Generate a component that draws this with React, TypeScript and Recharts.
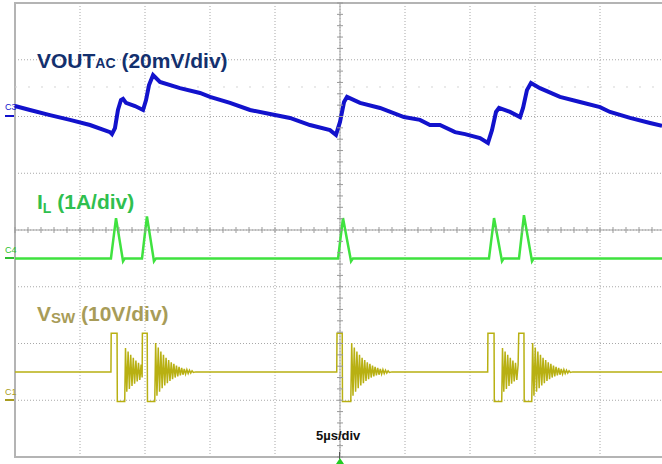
import { ComposedChart, Line, Scatter, XAxis, YAxis, CartesianGrid, ReferenceLine, ReferenceArea } from 'recharts';

// time axis in µs (5µs/div, 10 div), screen divisions 0..8 for the graticule
const timeTicks = [0, 5, 10, 15, 20, 25, 30, 35, 40, 45, 50];
const divTicks = [0, 1, 2, 3, 4, 5, 6, 7, 8];
const minorTimeTicks = Array.from({ length: 51 }, (_, i) => ({ t: i, d: 4 }));
const minorDivTicks = Array.from({ length: 41 }, (_, i) => ({ t: 25, d: i * 0.2 }));

// C3: VOUT AC, mV
const voutTrace: [number, number][] = [
    [0, 3.7], [1.15, 2.3], [2.69, 0.5], [4.23, -1.2], [5.77, -3.0], [7.31, -5.5], [7.46, -6.2],
    [7.69, -4.1], [7.92, 2.3], [8.15, 5.8], [8.31, 6.2], [8.54, 4.8], [9.23, 3.7], [9.85, 2.3],
    [10.08, 5.8], [10.31, 11.1], [10.62, 14.6], [11.15, 12.2], [12.69, 10.0], [14.23, 8.3],
    [15.0, 6.9], [16.54, 4.8], [18.08, 2.3], [20.0, 0.5], [21.15, -0.5], [22.69, -3.0],
    [24.23, -4.8], [24.69, -6.5], [25.0, -1.9], [25.31, 5.1], [25.54, 6.9], [26.54, 4.8],
    [28.08, 3.0], [29.92, -0.2], [31.15, -1.2], [31.92, -3.0], [32.69, -3.0], [33.85, -5.5],
    [34.62, -6.2], [35.77, -7.6], [36.38, -9.3], [36.69, -4.8], [37.0, 1.6], [37.23, 3.0],
    [38.08, 1.6], [38.85, -0.2], [39.08, 3.0], [39.38, 9.3], [39.69, 11.8], [40.38, 10.0],
    [41.92, 6.9], [43.46, 5.1], [45.0, 3.3], [45.77, 1.6], [47.31, -0.5], [48.85, -2.3], [49.77, -3.3],
];

// C4: inductor current, A
const ilTrace: [number, number][] = [
    [0, 0], [7.38, 0], [7.77, 0.71], [8.31, -0.05], [8.45, 0],
    [9.77, 0], [10.15, 0.74], [10.69, -0.05], [10.85, 0],
    [24.85, 0], [25.23, 0.71], [25.85, -0.05], [26.0, 0],
    [36.46, 0], [36.85, 0.71], [37.46, -0.05], [37.6, 0],
    [38.77, 0], [39.15, 0.76], [39.77, -0.05], [39.9, 0], [50, 0],
];

// C1: switch node, V
const vswBurst1: [number, number][] = [
    [0, 5.0], [7.38, 5.0], [7.4, 11.8], [7.85, 11.8], [7.87, -0.2], [8.44, -0.2],
    [8.5, 9.2], [8.6, 1.5], [8.7, 8.6], [8.8, 2.0], [8.9, 8.0], [9.0, 2.5], [9.1, 7.5], [9.2, 2.9],
    [9.3, 7.0], [9.4, 3.3], [9.5, 6.6], [9.6, 3.6], [9.7, 6.3], [9.78, 4.0],
    [9.8, 11.8], [10.17, 11.8], [10.19, -0.2], [10.75, -0.2],
    [10.82, 10.1], [10.92, 0.8], [11.02, 9.3], [11.12, 1.5], [11.22, 8.6], [11.32, 2.1],
    [11.42, 8.0], [11.52, 2.6], [11.62, 7.5], [11.72, 3.0], [11.82, 7.1], [11.92, 3.4],
    [12.02, 6.7], [12.12, 3.7], [12.22, 6.4], [12.32, 4.0], [12.42, 6.1], [12.52, 4.2],
    [12.62, 5.9], [12.72, 4.4], [12.82, 5.7], [12.92, 4.5], [13.02, 5.5], [13.12, 4.6],
    [13.22, 5.4], [13.32, 4.7], [13.42, 5.3], [13.52, 4.8], [13.62, 5.2], [13.72, 4.9], [13.9, 5.0],
];
const vswBurst2: [number, number][] = [
    [24.75, 5.0], [24.77, 11.8], [25.17, 11.8], [25.19, -0.2], [25.83, -0.2],
    [25.9, 10.1], [26.0, 0.8], [26.1, 9.3], [26.2, 1.5], [26.3, 8.6], [26.4, 2.1],
    [26.5, 8.0], [26.6, 2.6], [26.7, 7.5], [26.8, 3.0], [26.9, 7.1], [27.0, 3.4],
    [27.1, 6.7], [27.2, 3.7], [27.3, 6.4], [27.4, 4.0], [27.5, 6.1], [27.6, 4.2],
    [27.7, 5.9], [27.8, 4.4], [27.9, 5.7], [28.0, 4.5], [28.1, 5.5], [28.2, 4.6],
    [28.3, 5.4], [28.4, 4.7], [28.5, 5.3], [28.6, 4.8], [28.7, 5.2], [28.8, 4.9], [29.0, 5.0],
];
const vswBurst3: [number, number][] = [
    [36.36, 5.0], [36.38, 11.8], [36.85, 11.8], [36.87, -0.2], [37.44, -0.2],
    [37.5, 9.2], [37.6, 1.5], [37.7, 8.6], [37.8, 2.0], [37.9, 8.0], [38.0, 2.5], [38.1, 7.5],
    [38.2, 2.9], [38.3, 7.0], [38.4, 3.3], [38.5, 6.6], [38.6, 3.6], [38.7, 6.2],
    [38.75, 11.8], [39.15, 11.8], [39.17, -0.2], [39.75, -0.2],
    [39.82, 10.1], [39.92, 0.8], [40.02, 9.3], [40.12, 1.5], [40.22, 8.6], [40.32, 2.1],
    [40.42, 8.0], [40.52, 2.6], [40.62, 7.5], [40.72, 3.0], [40.82, 7.1], [40.92, 3.4],
    [41.02, 6.7], [41.12, 3.7], [41.22, 6.4], [41.32, 4.0], [41.42, 6.1], [41.52, 4.2],
    [41.62, 5.9], [41.72, 4.4], [41.82, 5.7], [41.92, 4.5], [42.02, 5.5], [42.12, 4.6],
    [42.22, 5.4], [42.32, 4.7], [42.42, 5.3], [42.52, 4.8], [42.62, 5.2], [42.72, 4.9],
    [42.9, 5.0], [50, 5.0],
];

const toPoints = (arr: [number, number][]) => arr.map(([t, v]) => ({ t, v }));
const voutData = toPoints(voutTrace);
const ilData = toPoints(ilTrace);
const vswData = toPoints([...vswBurst1, ...vswBurst2, ...vswBurst3]);

const FONT = '"Liberation Sans", Arial, sans-serif';
const NAVY = '#13306e';
const GREEN = '#2fbf4f';
const OLIVE = '#a89c58';

const VTick = ({ cx, cy }: any) => <line x1={cx} x2={cx} y1={cy - 3} y2={cy + 3} stroke="#999" strokeWidth={1} />;
const HTick = ({ cx, cy }: any) => <line x1={cx - 3} x2={cx + 3} y1={cy} y2={cy} stroke="#999" strokeWidth={1} />;

const abs = (left: number, top: number, extra: React.CSSProperties = {}): React.CSSProperties => ({
    position: 'absolute', left, top, fontFamily: FONT, fontWeight: 'bold', whiteSpace: 'nowrap', lineHeight: 1, ...extra,
});

export default function App() {
    return (
        <div style={{ position: 'absolute', left: 0, top: 0, width: 662, height: 464, overflow: 'hidden', background: '#fff' }}>
            <ComposedChart width={670} height={464} margin={{ top: 3, right: 5, bottom: 7, left: 15 }}>
                <XAxis dataKey="t" type="number" domain={[0, 50]} ticks={timeTicks} hide />
                <YAxis yAxisId={0} dataKey="d" type="number" domain={[0, 8]} ticks={divTicks} hide />
                <YAxis yAxisId="v" type="number" domain={[-120, 40]} hide />
                <YAxis yAxisId="i" type="number" domain={[-3.5, 4.5]} hide />
                <YAxis yAxisId="s" type="number" domain={[-10, 70]} hide />
                <CartesianGrid stroke="#a8a8a8" strokeDasharray="1 2" />
                <ReferenceLine yAxisId={0} y={6.52} stroke="#d4d4d4" strokeDasharray="2 11" />
                <ReferenceLine x={25} yAxisId={0} stroke="#a0a0a0" />
                <ReferenceLine yAxisId={0} y={4} stroke="#a0a0a0" />
                <Scatter yAxisId={0} data={minorTimeTicks} shape={VTick} isAnimationActive={false} />
                <Scatter yAxisId={0} data={minorDivTicks} shape={HTick} isAnimationActive={false} />
                <ReferenceArea yAxisId={0} x1={0} x2={50} y1={0} y2={8} fill="none" stroke="#b4b4b4" strokeWidth={2} />
                <Line yAxisId="s" data={vswData} dataKey="v" stroke="#b8b012" strokeWidth={1.5} dot={false} isAnimationActive={false} />
                <Line yAxisId="i" data={ilData} dataKey="v" stroke="#3fe23f" strokeWidth={2.5} dot={false} isAnimationActive={false} />
                <Line yAxisId="v" data={voutData} dataKey="v" stroke="#1212cc" strokeWidth={4} dot={false} isAnimationActive={false} />
            </ComposedChart>

            <div style={abs(37, 50, { fontSize: 21, color: NAVY })}>
                VOUT<span style={{ fontSize: 14 }}>AC</span> (20mV/div)
            </div>
            <div style={abs(37, 191, { fontSize: 21, color: GREEN })}>
                I<span style={{ fontSize: 14, position: 'relative', top: 4 }}>L</span> (1A/div)
            </div>
            <div style={abs(37, 303, { fontSize: 21, color: OLIVE })}>
                V<span style={{ fontSize: 15, position: 'relative', top: 2 }}>SW</span> (10V/div)
            </div>
            <div style={abs(316, 429, { fontSize: 13, color: '#111' })}>5µs/div</div>

            <div style={abs(5, 103, { fontSize: 9, fontWeight: 'normal', color: '#1212cc' })}>C3</div>
            <div style={{ position: 'absolute', left: 5, top: 115, width: 9, height: 2, background: '#1212cc' }} />
            <div style={abs(5, 246, { fontSize: 9, fontWeight: 'normal', color: '#2fbf2f' })}>C4</div>
            <div style={{ position: 'absolute', left: 5, top: 257, width: 9, height: 2, background: '#2fbf2f' }} />
            <div style={abs(5, 388, { fontSize: 9, fontWeight: 'normal', color: '#a89c20' })}>C1</div>
            <div style={{ position: 'absolute', left: 5, top: 399, width: 9, height: 2, background: '#a89c20' }} />

            <div style={{ position: 'absolute', left: 339, top: 452, width: 1, height: 7, background: '#555' }} />
            <div style={{ position: 'absolute', left: 336, top: 458, width: 0, height: 0, borderLeft: '4px solid transparent', borderRight: '4px solid transparent', borderBottom: '6px solid #22cc22' }} />
        </div>
    );
}
